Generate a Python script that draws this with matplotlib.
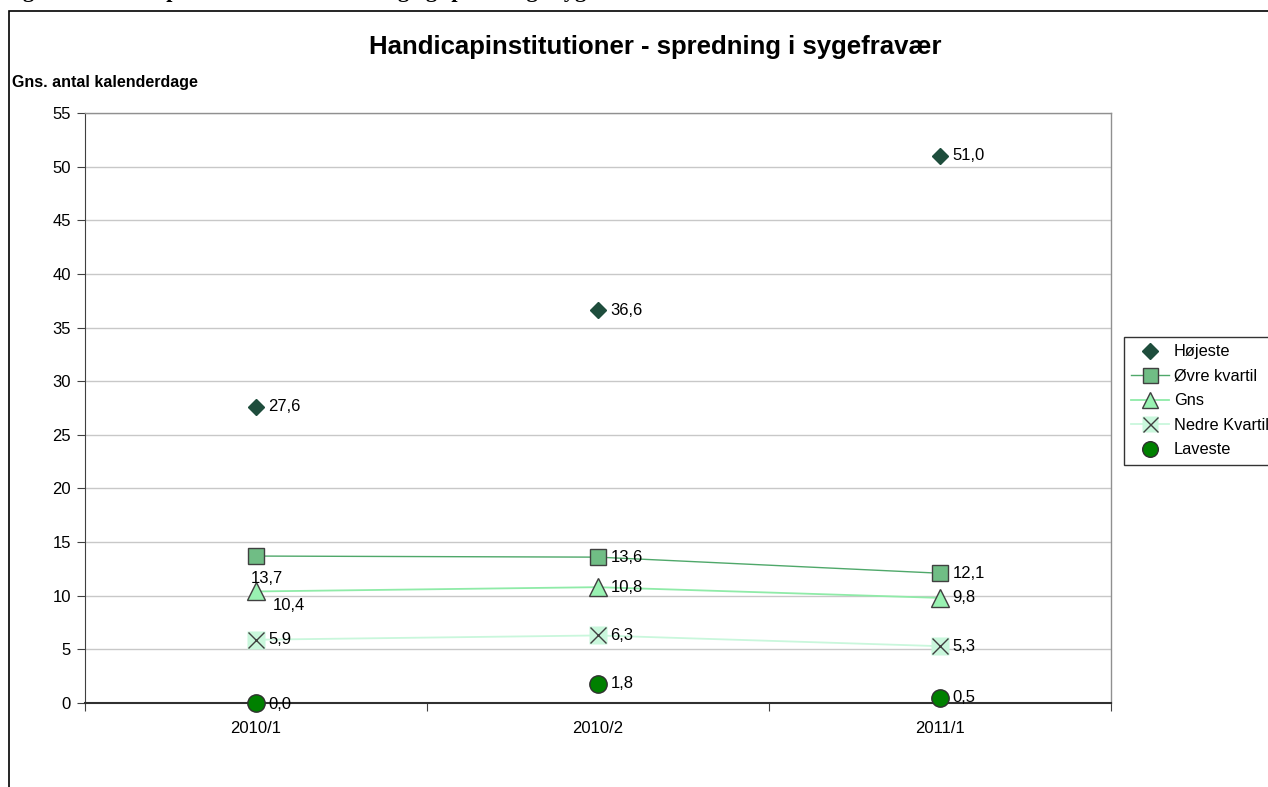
import matplotlib.pyplot as plt
from matplotlib.patches import Rectangle
from matplotlib.legend_handler import HandlerTuple

plt.rcParams['font.family'] = ['Liberation Sans', 'DejaVu Sans']

# data
periods = ["2010/1", "2010/2", "2011/1"]
hojeste = [27.6, 36.6, 51.0]
ovre_kvartil = [13.7, 13.6, 12.1]
gns = [10.4, 10.8, 9.8]
nedre_kvartil = [5.9, 6.3, 5.3]
laveste = [0.0, 1.8, 0.5]

yticks = list(range(0, 56, 5))

fig = plt.figure(figsize=(12.68, 7.87), dpi=100)
ax = fig.add_axes([0.067, 0.1067, 0.809, 0.7497])

x = list(range(len(periods)))

# outer chart frame
fig.patches.append(Rectangle((0.0071, -0.05), 1.1, 1.036, transform=fig.transFigure,
                             fill=False, edgecolor='black', linewidth=1.2))

# caption above the frame, mostly cut off in the reference
fig.text(0.002, 1 + 3/787, "Figur 6: Handicapinstitutioner \u2013 udvikling og spredning i sygefravær",
         family='Liberation Serif', fontweight='bold', fontsize=16, va='baseline', ha='left')

h1, = ax.plot(x, hojeste, linestyle='none', marker='D', markersize=8.5,
              color='#1E4D3C', markeredgecolor='#1E4D3C')
h2, = ax.plot(x, ovre_kvartil, color='#4FA86A', linewidth=1, marker='s', markersize=12,
              markerfacecolor='#70BD85', markeredgecolor='#404040', markeredgewidth=1)
h3, = ax.plot(x, gns, color='#8FEBA8', linewidth=1.3, marker='^', markersize=13,
              markerfacecolor='#99F2B2', markeredgecolor='#404040', markeredgewidth=1)
h4a, = ax.plot(x, nedre_kvartil, color='#C9F7DC', linewidth=1.3, marker='s', markersize=13,
               markerfacecolor='#C9F7DC', markeredgecolor='none')
h4b, = ax.plot(x, nedre_kvartil, linestyle='none', marker='x', markersize=12,
               color='#404040', markeredgewidth=1)
h5, = ax.plot(x, laveste, linestyle='none', marker='o', markersize=12.5, clip_on=False,
              markerfacecolor='#008000', markeredgecolor='#303030', markeredgewidth=1, zorder=5)
for l in (h1, h2, h3, h4a, h4b):
    l.set_clip_on(False)

def fmt(v):
    return f"{v:.1f}".replace('.', ',')

def label(xs, ys, offsets):
    for xi, yi, off in zip(xs, ys, offsets):
        ax.annotate(fmt(yi), (xi, yi), xytext=off, textcoords='offset points',
                    ha='left', va='center', fontsize=12, zorder=6)

label(x, hojeste, [(9, 0)] * 3)
label(x, ovre_kvartil, [(-4, -16), (9, 0), (9, 0)])
label(x, gns, [(12, -10), (9, 0), (9, 0)])
label(x, nedre_kvartil, [(9, 0)] * 3)
label(x, laveste, [(9, -1), (9, 0), (9, 0)])

ax.set_xlim(-0.5, 2.5)
ax.set_ylim(0, 55)
ax.set_yticks(yticks)
ax.set_xticks([-0.5, 0.5, 1.5, 2.5])
ax.set_xticklabels([])
ax.set_xticks(x, minor=True)
ax.set_xticklabels(periods, minor=True)
ax.tick_params(axis='x', which='minor', length=0, pad=13, labelsize=12)
ax.tick_params(axis='x', which='major', length=6, direction='out', color='#404040')
ax.tick_params(axis='y', length=6, direction='out', labelsize=12, pad=4, color='#404040')
ax.grid(axis='y', color='#C8C8C8', linewidth=1)
ax.set_axisbelow(True)

for side in ('top', 'right'):
    ax.spines[side].set_color('#909090')
    ax.spines[side].set_linewidth(1)
ax.spines['left'].set_color('#404040')
ax.spines['bottom'].set_color('#303030')
ax.spines['bottom'].set_linewidth(1.5)

fig.text(0.5165, 1 - 47/787, "Handicapinstitutioner - spredning i sygefravær",
         ha='center', va='center', fontsize=18.5, fontweight='bold')
fig.text(12/1268, 1 - 83/787, "Gns. antal kalenderdage", ha='left', va='center',
         fontsize=11.5, fontweight='bold')

leg = fig.legend([h1, h2, h3, (h4a, h4b), h5],
                 ["Højeste", "Øvre kvartil", "Gns", "Nedre Kvartil", "Laveste"],
                 handler_map={tuple: HandlerTuple(ndivide=1, pad=0)},
                 loc='upper left', bbox_to_anchor=(1124/1268, 1 - 337/787),
                 fontsize=11.8, frameon=True, fancybox=False, edgecolor='black',
                 borderpad=0.45, labelspacing=0.58, handlelength=2.3, handletextpad=0.3,
                 markerscale=0.9, borderaxespad=0)
leg.get_frame().set_linewidth(1)

fig.savefig("out.png", dpi=100)
